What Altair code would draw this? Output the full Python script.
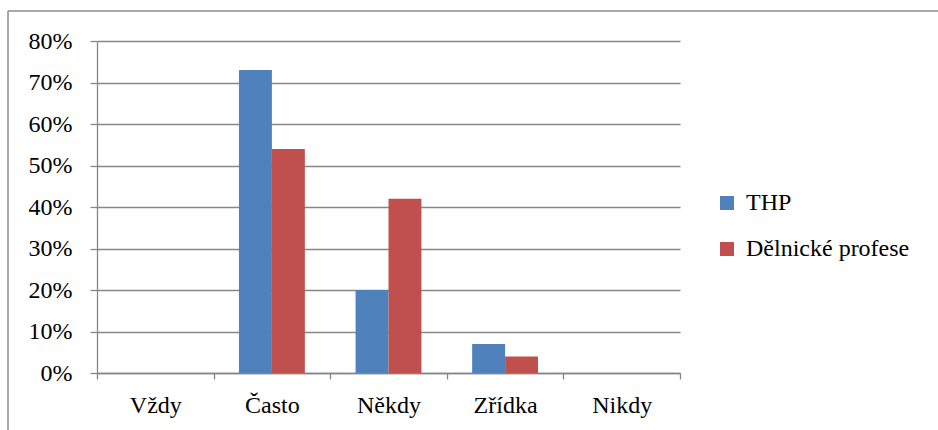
import altair as alt
import pandas as pd

categories = ["Vždy", "Často", "Někdy", "Zřídka", "Nikdy"]
series_names = ["THP", "Dělnické profese"]
thp = [0.0, 0.73, 0.20, 0.07, 0.0]
delnicke = [0.0, 0.54, 0.42, 0.04, 0.0]
colors = ["#4F81BD", "#C0504D"]

rows = []
for c, a, b in zip(categories, thp, delnicke):
    rows.append({"kategorie": c, "serie": series_names[0], "hodnota": a})
    rows.append({"kategorie": c, "serie": series_names[1], "hodnota": b})
df = pd.DataFrame(rows)

FONT = "Liberation Serif"
FS = 24
GRID = "#868686"

bars = alt.Chart(df).mark_bar().encode(
    x=alt.X("kategorie:N", sort=categories, title=None,
            scale=alt.Scale(paddingInner=0, paddingOuter=0),
            axis=alt.Axis(labelAngle=0, tickBand="extent", grid=False,
                          domainColor=GRID, tickColor=GRID, tickSize=6,
                          domainWidth=1.3, tickWidth=1.3,
                          labelFont=FONT, labelFontSize=FS, labelColor="black",
                          labelPadding=14)),
    xOffset=alt.XOffset("serie:N", sort=series_names,
                        scale=alt.Scale(paddingInner=0, paddingOuter=0.77)),
    y=alt.Y("hodnota:Q", title=None,
            scale=alt.Scale(domain=[0, 0.8], nice=False),
            axis=alt.Axis(format=".0%", values=[0, 0.1, 0.2, 0.3, 0.4, 0.5, 0.6, 0.7, 0.8],
                          grid=True, gridColor=GRID, gridWidth=1.3,
                          domainColor=GRID, tickColor=GRID, tickSize=7,
                          domainWidth=1.3, tickWidth=1.3,
                          labelFont=FONT, labelFontSize=FS, labelColor="black",
                          labelPadding=18)),
    color=alt.Color("serie:N", sort=series_names,
                    scale=alt.Scale(domain=series_names, range=colors),
                    legend=alt.Legend(title=None, orient="none", legendX=618, legendY=150,
                                      symbolType="square", symbolSize=196,
                                      symbolStrokeWidth=0,
                                      labelFont=FONT, labelFontSize=FS, labelColor="black",
                                      labelLimit=400, labelOffset=7, rowPadding=22)),
)

frame_top = alt.Chart(pd.DataFrame({"k": [0]})).mark_rule(color="#8c8c8c", strokeWidth=1.5).encode(
    x=alt.value(-89), x2=alt.value(841), y=alt.value(-30)
)
frame_left = alt.Chart(pd.DataFrame({"k": [0]})).mark_rule(color="#8c8c8c", strokeWidth=1.5).encode(
    x=alt.value(-89), y=alt.value(-30), y2=alt.value(389)
)

chart = alt.layer(bars, frame_top, frame_left).properties(
    width=583, height=332,
    background="white",
    autosize=alt.AutoSizeParams(type="none"),
    padding={"left": 97, "top": 41, "right": 258, "bottom": 57},
).configure_view(stroke=None)

chart.save("out.html", embed_options={"renderer": "svg", "actions": False})
